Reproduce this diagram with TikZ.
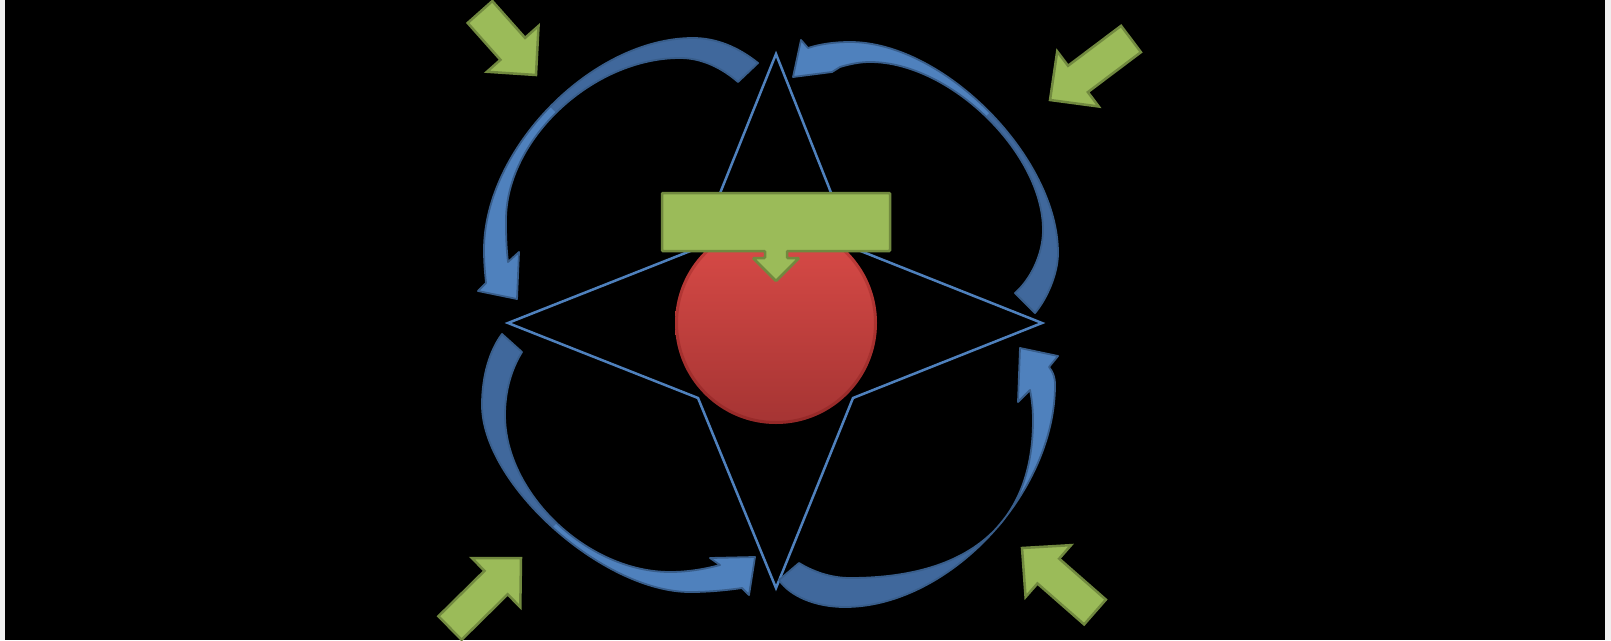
\documentclass[tikz,border=0pt]{standalone}
\usetikzlibrary{calc}
\definecolor{edgewhite}{HTML}{F0F0F0}
\definecolor{bluelight}{HTML}{4F81BD}
\definecolor{bluedark}{HTML}{40689C}
\definecolor{blueedge}{HTML}{385D8A}
\definecolor{greenfill}{HTML}{9BBB59}
\definecolor{greenline}{HTML}{71893F}
\definecolor{redtop}{HTML}{DC4C48}
\definecolor{redbot}{HTML}{A53433}
\tikzset{
  starline/.style={draw=bluelight, line width=2.5pt, line join=miter},
  greenshape/.style={fill=greenfill, draw=greenline, line width=2.5pt, line join=miter},
  bandD/.style={fill=bluedark},
  bandL/.style={fill=bluelight},
  bandE/.style={draw=blueedge, line width=1.8pt, line join=round}
}
\newcommand\gblockarrow[3]{%
  \coordinate (#1t) at #2;
  \coordinate (#1p) at #3;
  \coordinate (#1n) at ($(#1p)!35pt!(#1t)$);
  \filldraw[greenshape] ($(#1t)!16.5pt!90:(#1p)$) -- ($(#1n)!16.5pt!90:(#1p)$) -- ($(#1n)!34.5pt!90:(#1p)$) -- (#1p) -- ($(#1n)!34.5pt!-90:(#1p)$) -- ($(#1n)!16.5pt!-90:(#1p)$) -- ($(#1t)!16.5pt!-90:(#1p)$) -- cycle;
}
% curved arrow outlines (pixel coordinates, y downwards)
\newcommand\cArrowA{(758,63) .. controls (738,47) and (716,38) .. (693,38) .. controls (593,38) and (484,148) .. (484,250) .. controls (484,262) and (485,273) .. (486,283) -- (478,291) -- (517,299) -- (519,252) -- (508,262) .. controls (506,245) and (506,232) .. (506,220) .. controls (506,139) and (593,58) .. (680,58) .. controls (702,58) and (722,68) .. (738,82) -- cycle}
\newcommand\cArrowB{(1035,313) .. controls (1046,300) and (1058,275) .. (1058,253) .. controls (1058,158) and (944,42) .. (850,42) .. controls (835,42) and (820,44) .. (808,48) -- (801,40) -- (793,77) -- (832,72) -- (840,67) .. controls (850,64) and (860,62) .. (870,62) .. controls (950,62) and (1043,153) .. (1043,230) .. controls (1043,255) and (1030,280) .. (1015,293) -- cycle}
\newcommand\cArrowC{(502,334) .. controls (490,350) and (482,375) .. (482,405) .. controls (482,484) and (603,592) .. (690,592) .. controls (710,592) and (728,590) .. (742,588) -- (749,595) -- (755,557) -- (710,558) -- (720,565) .. controls (705,569) and (688,572) .. (670,572) .. controls (588,572) and (505,494) .. (505,415) .. controls (505,390) and (512,368) .. (522,352) -- cycle}
\newcommand\cArrowD{(779,580) .. controls (790,596) and (815,607) .. (845,607) .. controls (948,607) and (1055,494) .. (1055,385) .. controls (1055,377) and (1053,372) .. (1049,367) -- (1058,356) -- (1020,348) -- (1018,402) -- (1030,390) .. controls (1032,400) and (1033,410) .. (1033,420) .. controls (1033,531) and (961,578) .. (850,578) .. controls (830,578) and (812,571) .. (799,563) -- cycle}
\begin{document}
\begin{tikzpicture}[x=1pt,y=-1pt]
\useasboundingbox (0,0) rectangle (1611,640);
\fill[edgewhite] (0,0) rectangle (1611,640);
\fill[black] (5,0) rectangle (1605,640);

% four-pointed star
\coordinate (sT) at (776,54);
\coordinate (sUR) at (853,248);
\coordinate (sR) at (1042,323);
\coordinate (sLR) at (853,398);
\coordinate (sB) at (776,588);
\coordinate (sLL) at (698,398);
\coordinate (sL) at (508,323);
\coordinate (sUL) at (698,248);
\draw[starline] (sT) -- (sUR) -- (sR) -- (sLR) -- (sB) -- (sLL) -- (sL) -- (sUL) -- cycle;

% red ball
\coordinate (ball) at (776,323);
\shade[top color=redtop, bottom color=redbot] (ball) circle[radius=101pt];
\draw[red!35!black, opacity=0.2, line width=3pt] (ball) circle[radius=99.5pt];

% green callout
\filldraw[greenshape, rounded corners=1pt] (662,193) -- (890,193) -- (890,251) -- (787,251) -- (787,258) -- (799,258) -- (776,281) -- (753,258) -- (765,258) -- (765,251) -- (662,251) -- cycle;

% curved arrow A (top left)
\fill[bandD] \cArrowA;
\begin{scope}
  \clip (251,-192) -- (851,408) -- (451,808) -- (-149,208) -- cycle;
  \fill[bandL] \cArrowA;
\end{scope}
\draw[bandE] \cArrowA;

% curved arrow B (top right)
\fill[bandD] \cArrowB;
\begin{scope}
  \clip (588,514) -- (1388,-286) -- (888,-786) -- (88,14) -- cycle;
  \fill[bandL] \cArrowB;
\end{scope}
\draw[bandE] \cArrowB;

% curved arrow C (bottom left)
\fill[bandD] \cArrowC;
\begin{scope}
  \clip (155,925) -- (955,125) -- (1455,625) -- (655,1425) -- cycle;
  \fill[bandL] \cArrowC;
\end{scope}
\draw[bandE] \cArrowC;

% curved arrow D (bottom right)
\fill[bandD] \cArrowD;
\begin{scope}
  \clip (586,135) -- (1386,935) -- (1886,435) -- (1086,-365) -- cycle;
  \fill[bandL] \cArrowD;
\end{scope}
\draw[bandE] \cArrowD;

% green block arrows
\gblockarrow{ga}{(480,12)}{(536,75)}
\gblockarrow{gb}{(1131,39)}{(1050,100)}
\gblockarrow{gc}{(450,628)}{(521,558)}
\gblockarrow{gd}{(1095,612)}{(1022,548)}
\end{tikzpicture}
\end{document}
